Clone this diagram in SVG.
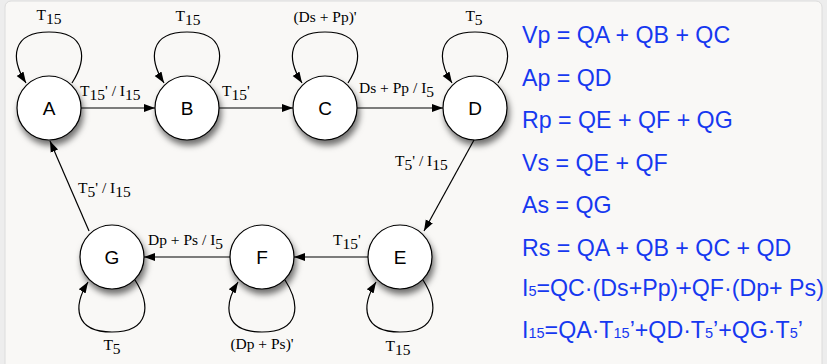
<svg xmlns="http://www.w3.org/2000/svg" width="827" height="364" viewBox="0 0 827 364">
<style>
.node circle{fill:#fff;stroke:#000;stroke-width:1.2;}
.nl{font-family:"Liberation Sans",Arial,sans-serif;font-size:19px;text-anchor:middle;fill:#000;}
.el{font-family:"Liberation Serif","Times New Roman",serif;font-size:15.5px;fill:#000;}
.mid{text-anchor:middle;}
.edge{fill:none;stroke:#000;stroke-width:1.2;marker-end:url(#ah);}
.eq{font-family:"Liberation Sans",Arial,sans-serif;font-size:23.2px;fill:#1638f0;}
.sub{font-size:14.5px;}
</style>
<defs>
<marker id="ah" markerWidth="12" markerHeight="10" refX="11" refY="5" orient="auto" markerUnits="userSpaceOnUse">
<path d="M0,1 L11,5 L0,9 Z" fill="#000"/>
</marker>
<filter id="sh" x="-40%" y="-40%" width="190%" height="200%">
<feDropShadow dx="2" dy="5" stdDeviation="3" flood-color="#000" flood-opacity="0.55"/>
</filter>
</defs>
<rect x="0" y="0" width="827" height="364" fill="#ededed"/>
<rect x="5" y="1" width="817" height="380" rx="6" fill="#f9f8f6" stroke="#dcdcdc" stroke-width="1"/>

<g id="connectors">
<path class="edge" d="M81,108 L155,108"/>
<path class="edge" d="M219,108 L293,108"/>
<path class="edge" d="M357,108 L443,108"/>
<path class="edge" d="M474,140 L424,231"/>
<path class="edge" d="M368,257 L294,257"/>
<path class="edge" d="M230,257 L144,257"/>
<path class="edge" d="M89,231 L50,141"/>
<path class="edge" d="M72,83 C88,58 86,32 49,32 C12,32 10,58 26,83"/>
<path class="edge" d="M210,83 C226,58 224,32 187,32 C150,32 148,58 164,83"/>
<path class="edge" d="M348,83 C364,58 362,32 325,32 C288,32 286,58 302,83"/>
<path class="edge" d="M498,83 C514,58 512,32 475,32 C438,32 436,58 452,83"/>
<path class="edge" d="M135,280 C151,305 150,332 112,332 C74,332 73,306 88,282"/>
<path class="edge" d="M285,280 C301,305 300,332 262,332 C224,332 223,306 238,282"/>
<path class="edge" d="M423,280 C439,305 438,332 400,332 C362,332 361,306 376,282"/>
<text class="el" x="80" y="96">T<tspan dy="4">15</tspan><tspan dy="-4">' / I</tspan><tspan dy="4">15</tspan></text>
<text class="el" x="222" y="96">T<tspan dy="4">15</tspan><tspan dy="-4">'</tspan></text>
<text class="el" x="359" y="93">Ds + Pp / I<tspan dy="4">5</tspan></text>
<text class="el" x="395" y="166">T<tspan dy="4">5</tspan><tspan dy="-4">' / I</tspan><tspan dy="4">15</tspan></text>
<text class="el" x="78" y="193">T<tspan dy="4">5</tspan><tspan dy="-4">' / I</tspan><tspan dy="4">15</tspan></text>
<text class="el" x="148" y="245">Dp + Ps / I<tspan dy="4">5</tspan></text>
<text class="el" x="333" y="245">T<tspan dy="4">15</tspan><tspan dy="-4">'</tspan></text>
<text class="el mid" x="49" y="20">T<tspan dy="4">15</tspan></text>
<text class="el mid" x="188" y="21">T<tspan dy="4">15</tspan></text>
<text class="el mid" x="325" y="22">(Ds + Pp)'</text>
<text class="el mid" x="474" y="21">T<tspan dy="4">5</tspan></text>
<text class="el mid" x="112" y="350">T<tspan dy="4">5</tspan></text>
<text class="el mid" x="262" y="349">(Dp + Ps)'</text>
<text class="el mid" x="398" y="351">T<tspan dy="4">15</tspan></text>
</g>

<g id="A" class="node"><circle cx="49" cy="108" r="32" filter="url(#sh)"/><text class="nl" x="49" y="115">A</text></g>
<g id="B" class="node"><circle cx="187" cy="108" r="32" filter="url(#sh)"/><text class="nl" x="187" y="115">B</text></g>
<g id="C" class="node"><circle cx="325" cy="108" r="32" filter="url(#sh)"/><text class="nl" x="325" y="115">C</text></g>
<g id="D" class="node"><circle cx="475" cy="108" r="32" filter="url(#sh)"/><text class="nl" x="475" y="115">D</text></g>
<g id="E" class="node"><circle cx="400" cy="257" r="32" filter="url(#sh)"/><text class="nl" x="400" y="264">E</text></g>
<g id="F" class="node"><circle cx="262" cy="257" r="32" filter="url(#sh)"/><text class="nl" x="262" y="264">F</text></g>
<g id="G" class="node"><circle cx="112" cy="257" r="32" filter="url(#sh)"/><text class="nl" x="112" y="264">G</text></g>

<g id="equations">
<text class="eq" x="522" y="43">Vp = QA + QB + QC</text>
<text class="eq" x="522" y="86">Ap = QD</text>
<text class="eq" x="522" y="128">Rp = QE + QF + QG</text>
<text class="eq" x="522" y="171">Vs = QE + QF</text>
<text class="eq" x="522" y="213">As = QG</text>
<text class="eq" x="522" y="256">Rs = QA + QB + QC + QD</text>
<text class="eq" x="522" y="296">I<tspan class="sub">5</tspan>=QC·(Ds+Pp)+QF·(Dp+ Ps)</text>
<text class="eq" x="522" y="338">I<tspan class="sub">15</tspan>=QA·T<tspan class="sub">15</tspan>’+QD·T<tspan class="sub">5</tspan>’+QG·T<tspan class="sub">5</tspan>’</text>
</g>
</svg>
